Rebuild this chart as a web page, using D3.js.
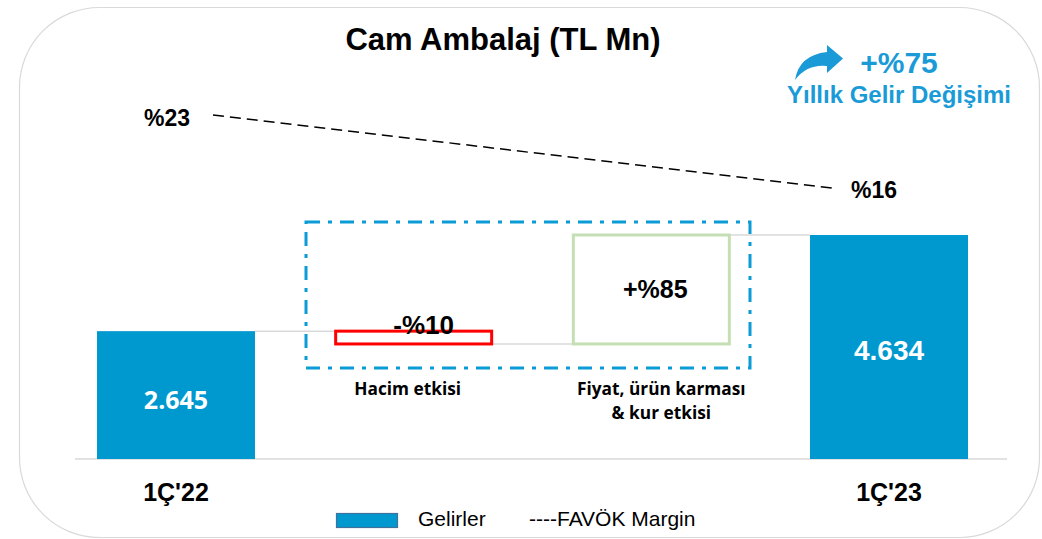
<!DOCTYPE html>
<html>
<head>
  <meta charset="utf-8">
  <title>Cam Ambalaj (TL Mn)</title>
  <style>
    body { margin: 0; background: #fff; }
    svg { display: block; font-family: Arial, "Liberation Sans", sans-serif; }
    .calib { font-family: "Open Sans", Lato, sans-serif; }
  </style>
</head>
<body>
<svg width="1042" height="539"></svg>
<script src="https://d3js.org/d3.v7.min.js"></script>
<script>
// veriler
const categories = ["1Ç'22", "Hacim etkisi", "Fiyat, ürün karması", "1Ç'23"];
const steps = [2645, -265, 2254, 4634];          // gelir köprüsü (TL Mn)
const stepLabels = ["2.645", "-%10", "+%85", "4.634"];
const stepKinds = ["total", "down", "up", "total"];
const marginYears = ["1Ç'22", "1Ç'23"];
const marginValues = [23, 16];                   // FAVÖK marjı %
const subLabels = [[], ["Hacim etkisi"], ["Fiyat, ürün karması", "& kur etkisi"], []];

const svg = d3.select("svg");

// dış çerçeve
svg.append("rect")
  .attr("x", 19.5).attr("y", 7.5)
  .attr("width", 1020).attr("height", 530)
  .attr("rx", 80).attr("ry", 80)
  .attr("fill", "#fff").attr("stroke", "#d9d9d9").attr("stroke-width", 1.2);

// ölçekler
const x = d3.scalePoint().domain(categories).range([176, 889]);
const y = d3.scaleLinear().domain([0, 5000]).range([459, 459 - 5000 * 224 / 4634]);
const bw = 158;

// basamakları hesapla
let run = 0;
const bars = steps.map((v, i) => {
  let lo, hi;
  if (stepKinds[i] === "total") { lo = 0; hi = v; run = v; }
  else { const s = run; run = run + v; lo = Math.min(s, run); hi = Math.max(s, run); }
  return { cat: categories[i], lo, hi, end: run, kind: stepKinds[i], label: stepLabels[i], i };
});

// bağlantı çizgileri
for (let i = 0; i < bars.length - 1; i++) {
  const lvl = bars[i].end;
  svg.append("line")
    .attr("x1", x(bars[i].cat) + bw / 2).attr("x2", x(bars[i + 1].cat) - bw / 2)
    .attr("y1", y(lvl)).attr("y2", y(lvl))
    .attr("stroke", "#d9d9d9").attr("stroke-width", 1.5);
}

// taban çizgisi
svg.append("line")
  .attr("x1", 75).attr("x2", 1007).attr("y1", y(0)).attr("y2", y(0))
  .attr("stroke", "#d9d9d9").attr("stroke-width", 1.5);

// mavi kesikli çerçeve
svg.append("rect")
  .attr("x", 306).attr("y", 222).attr("width", 444).attr("height", 146)
  .attr("fill", "none").attr("stroke", "#0b9bd6").attr("stroke-width", 3)
  .attr("stroke-dasharray", "14,8,4,8");

// barlar
svg.selectAll(".bar").data(bars).enter().append("rect")
  .attr("class", "bar")
  .attr("x", d => x(d.cat) - (d.kind === "total" ? bw / 2 : bw / 2 - 1))
  .attr("y", d => y(d.hi))
  .attr("width", d => d.kind === "total" ? bw : bw - 2)
  .attr("height", d => y(d.lo) - y(d.hi))
  .attr("fill", d => d.kind === "total" ? "#0099cf" : "#fff")
  .attr("stroke", d => d.kind === "down" ? "#ff0000" : d.kind === "up" ? "#c5dfb4" : "none")
  .attr("stroke-width", 3);

// bar etiketleri
svg.append("text").attr("class", "calib")
  .attr("x", x(categories[0])).attr("y", 409)
  .attr("text-anchor", "middle").attr("fill", "#fff")
  .attr("font-size", 25).attr("font-weight", "bold").text(stepLabels[0]);
svg.append("text")
  .attr("x", x(categories[3])).attr("y", 360)
  .attr("text-anchor", "middle").attr("fill", "#fff")
  .attr("font-size", 28).attr("font-weight", "bold").text(stepLabels[3]);
svg.append("text")
  .attr("x", x(categories[1]) + 10).attr("y", 334)
  .attr("text-anchor", "middle").attr("fill", "#000")
  .attr("font-size", 26).attr("font-weight", "bold").text(stepLabels[1]);
svg.append("text")
  .attr("x", x(categories[2]) + 4).attr("y", 298)
  .attr("text-anchor", "middle").attr("fill", "#000")
  .attr("font-size", 25).attr("font-weight", "bold").text(stepLabels[2]);

// alt açıklamalar
const subShift = [0, -6, 10, 0];
subLabels.forEach((lines, i) => {
  lines.forEach((t, k) => {
    svg.append("text").attr("class", "calib")
      .attr("x", x(categories[i]) + subShift[i]).attr("y", 395 + k * 24)
      .attr("text-anchor", "middle").attr("font-size", 17.3).attr("font-weight", "bold")
      .attr("fill", "#000").text(t);
  });
});

// kategori etiketleri
[0, 3].forEach(i => {
  svg.append("text")
    .attr("x", x(categories[i])).attr("y", 501)
    .attr("text-anchor", "middle").attr("font-size", 25).attr("font-weight", "bold")
    .text(categories[i]);
});

// FAVÖK marjı çizgisi
const my = d3.scaleLinear().domain([16, 23]).range([188, 115]);
const mx = d3.scaleOrdinal().domain(marginYears).range([x(categories[0]) + 37, x(categories[3]) - 57]);
svg.append("path")
  .datum(marginYears.map((k, i) => [mx(k), my(marginValues[i])]))
  .attr("d", d3.line())
  .attr("fill", "none").attr("stroke", "#000").attr("stroke-width", 1.5)
  .attr("stroke-dasharray", "11,6");
svg.append("text").attr("x", 167).attr("y", 126).attr("text-anchor", "middle")
  .attr("font-size", 23).attr("font-weight", "bold").text("%" + marginValues[0]);
svg.append("text").attr("x", 874).attr("y", 198).attr("text-anchor", "middle")
  .attr("font-size", 23).attr("font-weight", "bold").text("%" + marginValues[1]);

// başlık
svg.append("text").attr("x", 503).attr("y", 50).attr("text-anchor", "middle")
  .attr("font-size", 31).attr("font-weight", "bold").text("Cam Ambalaj (TL Mn)");

// yıllık değişim
const blue = "#1a9bd7";
svg.append("path")
  .attr("d", "M795,80 Q799,55 827,52 L827,45 L843,58.5 L827,73 L827,66 Q807,64 795,80 Z")
  .attr("fill", blue);
svg.append("text").attr("x", 899).attr("y", 73).attr("text-anchor", "middle")
  .attr("font-size", 30).attr("font-weight", "bold").attr("fill", blue).text("+%75");
svg.append("text").attr("x", 899).attr("y", 103).attr("text-anchor", "middle")
  .attr("font-size", 24).attr("font-weight", "bold").attr("fill", blue).text("Yıllık Gelir Değişimi");

// lejant
svg.append("rect").attr("x", 336.5).attr("y", 513.5).attr("width", 61).attr("height", 14)
  .attr("fill", "#0099cf").attr("stroke", "#41719c").attr("stroke-width", 1.2);
svg.append("text").attr("x", 418).attr("y", 526).attr("font-size", 21).text("Gelirler");
svg.append("text").attr("x", 529).attr("y", 526).attr("font-size", 21).text("----FAVÖK Margin");
</script>
</body>
</html>
